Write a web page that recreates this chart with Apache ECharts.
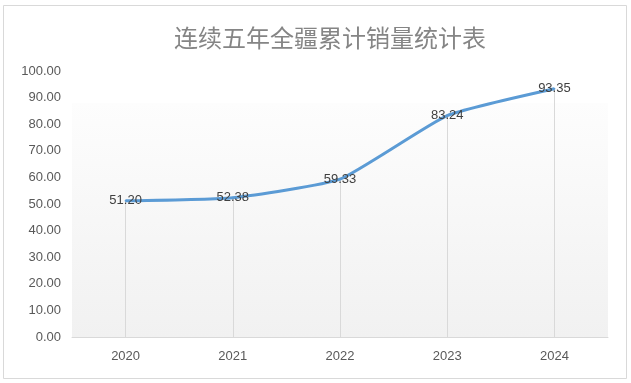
<!DOCTYPE html>
<html>
<head>
<meta charset="utf-8">
<script src="https://cdn.jsdelivr.net/npm/echarts@6/dist/echarts.min.js"></script>
<style>
html,body{margin:0;padding:0;background:#fff;}
#chart{width:631px;height:383px;}
</style>
</head>
<body>
<div id="chart"></div>
<script>
const titleText = '连续五年全疆累计销量统计表';
const categories = ['2020', '2021', '2022', '2023', '2024'];
const salesValues = [51.20, 52.38, 59.33, 83.24, 93.35];
const yMin = 0, yMax = 100, yStep = 10;

const chart = echarts.init(document.getElementById('chart'), null, {renderer: 'canvas'});
const font = '"Liberation Sans", Arial, sans-serif';

chart.setOption({
  backgroundColor: '#ffffff',
  animation: false,
  title: {
    text: titleText,
    left: 169,
    top: 21,
    textStyle: {
      fontFamily: '"Noto Sans CJK SC", sans-serif',
      fontSize: 24,
      fontWeight: 'normal',
      color: '#858585'
    }
  },
  graphic: [{
    type: 'rect',
    silent: true,
    z: -10,
    shape: {x: 3.5, y: 5.5, width: 623, height: 373},
    style: {fill: 'none', stroke: '#d9d9d9', lineWidth: 1}
  }],
  grid: {
    left: 72, right: 23, top: 71, bottom: 46,
    show: true,
    borderWidth: 0,
    backgroundColor: new echarts.graphic.LinearGradient(0, 0, 0, 1, [
      {offset: 0, color: '#ffffff'},
      {offset: 0.12, color: '#ffffff'},
      {offset: 0.121, color: '#fdfdfd'},
      {offset: 1, color: '#f1f1f1'}
    ])
  },
  xAxis: {
    type: 'category',
    data: categories,
    boundaryGap: true,
    axisLine: {show: true, lineStyle: {color: '#d9d9d9', width: 1}},
    axisTick: {show: false},
    splitLine: {show: false},
    axisLabel: {color: '#595959', fontSize: 13, fontFamily: font, margin: 13}
  },
  yAxis: {
    type: 'value',
    min: yMin, max: yMax, interval: yStep,
    axisLine: {show: false},
    axisTick: {show: false},
    splitLine: {show: false},
    axisLabel: {
      color: '#595959', fontSize: 13, fontFamily: font, margin: 11,
      formatter: v => v.toFixed(2)
    }
  },
  series: [{
    type: 'line',
    data: salesValues,
    smooth: 0.15,
    showSymbol: true,
    symbol: 'circle',
    symbolSize: 2,
    lineStyle: {color: '#5b9bd5', width: 3},
    itemStyle: {color: '#5b9bd5', borderWidth: 0},
    z: 3,
    label: {
      show: true,
      position: 'inside',
      offset: [0, 0],
      color: '#404040',
      opacity: 1,
      fontSize: 13,
      fontFamily: font,
      formatter: p => p.value.toFixed(2)
    },
    labelLayout: {hideOverlap: false},
    markLine: {
      silent: true,
      symbol: ['none', 'none'],
      label: {show: false},
      lineStyle: {color: '#d9d9d9', width: 1, type: 'solid'},
      z: 1,
      data: salesValues.map((v, i) => [
        {coord: [i, 0]},
        {coord: [i, v]}
      ])
    }
  }]
});
</script>
</body>
</html>
